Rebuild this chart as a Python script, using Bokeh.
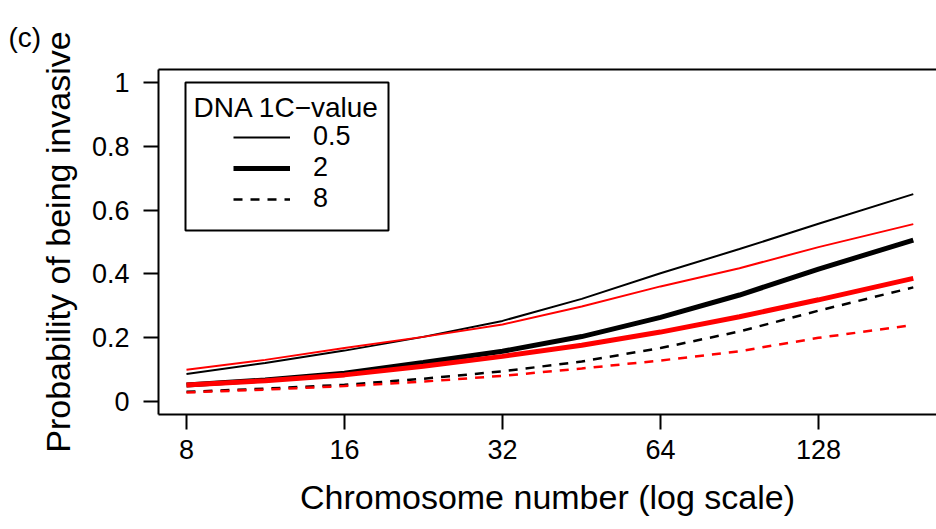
from bokeh.plotting import figure
from bokeh.models import (FixedTicker, LogAxis, Label, BoxAnnotation, Legend, LegendItem)
from bokeh.embed import file_html
from bokeh.resources import INLINE

# ---- data ----
chrom = [8, 11.3, 16, 22.6, 32, 45.3, 64, 90.5, 128, 194]

black_05 = [0.087, 0.121, 0.160, 0.203, 0.253, 0.322, 0.402, 0.478, 0.557, 0.650]
red_05   = [0.100, 0.131, 0.168, 0.203, 0.242, 0.298, 0.361, 0.418, 0.484, 0.556]
black_2  = [0.052, 0.068, 0.089, 0.123, 0.158, 0.204, 0.264, 0.334, 0.415, 0.506]
red_2    = [0.052, 0.066, 0.084, 0.111, 0.142, 0.177, 0.218, 0.266, 0.319, 0.386]
black_8  = [0.031, 0.041, 0.053, 0.072, 0.095, 0.126, 0.168, 0.220, 0.285, 0.358]
red_8    = [0.029, 0.038, 0.049, 0.063, 0.081, 0.104, 0.129, 0.158, 0.200, 0.240]

x_ticks = [8, 16, 32, 64, 128]
x_tick_labels = ["8", "16", "32", "64", "128"]
y_ticks = [0, 0.2, 0.4, 0.6, 0.8, 1.0]
y_tick_labels = ["0", "0.2", "0.4", "0.6", "0.8", "1"]
dna_labels = ["0.5", "2", "8"]
legend_title = "DNA 1C\u2212value"
panel_tag = "(c)"

FONT = "Liberation Sans"

p = figure(width=936, height=529, x_axis_type="log",
           x_range=(7.076, 214.8), y_range=(-0.04, 1.04),
           output_backend="svg", toolbar_location=None,
           min_border_left=158, min_border_right=0,
           min_border_top=69, min_border_bottom=115,
           background_fill_color="white", border_fill_color="white",
           outline_line_color=None)
p.grid.visible = False

# panel tag as the plot title, pushed to the far left
p.title.text = panel_tag
p.title.align = "left"
p.title.vertical_align = "bottom"
p.title.offset = -150
p.title.standoff = 34
p.title.text_font = FONT
p.title.text_font_size = "28px"
p.title.text_font_style = "normal"
p.title.text_color = "black"

# curves
r_b05 = p.line(chrom, black_05, line_color="black", line_width=2)
r_r05 = p.line(chrom, red_05, line_color="red", line_width=2)
r_b2 = p.line(chrom, black_2, line_color="black", line_width=5)
r_r2 = p.line(chrom, red_2, line_color="red", line_width=5)
r_b8 = p.line(chrom, black_8, line_color="black", line_width=2.5, line_dash="9 8")
r_r8 = p.line(chrom, red_8, line_color="red", line_width=2.5, line_dash="9 8")

# axes
for ax in (p.xaxis, p.yaxis):
    ax.axis_line_width = 2
    ax.axis_line_color = "black"
    ax.major_tick_line_width = 2
    ax.major_tick_line_color = "black"
    ax.major_tick_in = 0
    ax.major_tick_out = 15
    ax.minor_tick_line_color = None
    ax.major_label_text_font = FONT
    ax.major_label_text_font_size = "27px"
    ax.major_label_text_color = "black"
    ax.axis_label_text_font = FONT
    ax.axis_label_text_font_size = "34px"
    ax.axis_label_text_font_style = "normal"
    ax.axis_label_text_color = "black"

p.xaxis.ticker = FixedTicker(ticks=x_ticks)
p.xaxis.major_label_overrides = dict(zip(x_ticks, x_tick_labels))
p.xaxis.major_label_standoff = 10
p.xaxis.axis_label = "Chromosome number (log scale)"
p.xaxis.axis_label_standoff = 16

p.yaxis.ticker = FixedTicker(ticks=y_ticks)
p.yaxis.major_label_overrides = dict(zip(y_ticks, y_tick_labels))
p.yaxis.major_label_standoff = 14
p.yaxis.axis_label = "Probability of being invasive"
p.yaxis.axis_label_standoff = 12

# top frame line (no ticks)
top = LogAxis(ticker=FixedTicker(ticks=[]), axis_line_width=2, axis_line_color="black",
              major_tick_line_color=None, minor_tick_line_color=None,
              major_tick_out=0, major_tick_in=0, major_label_standoff=0,
              major_label_text_font_size="0px")
p.add_layout(top, "above")

# legend box and title
p.add_layout(BoxAnnotation(left=27, right=230, top=332, bottom=184,
                           left_units="screen", right_units="screen",
                           top_units="screen", bottom_units="screen",
                           fill_color=None, fill_alpha=0,
                           line_color="black", line_width=2, line_alpha=1))
p.add_layout(Label(x=35, y=307, x_units="screen", y_units="screen",
                   text=legend_title, text_font=FONT, text_font_size="28px",
                   text_baseline="middle", text_align="left", text_color="black"))

legend = Legend(items=[LegendItem(label=dna_labels[0], renderers=[r_b05]),
                       LegendItem(label=dna_labels[1], renderers=[r_b2]),
                       LegendItem(label=dna_labels[2], renderers=[r_b8])],
                location=(75, 200), padding=0, margin=0, spacing=0,
                glyph_width=57, glyph_height=20, label_standoff=23,
                label_text_font=FONT, label_text_font_size="27px",
                label_text_color="black",
                border_line_color=None, background_fill_alpha=0)
p.add_layout(legend, "center")

open("out.html", "w").write(file_html(p, INLINE))
